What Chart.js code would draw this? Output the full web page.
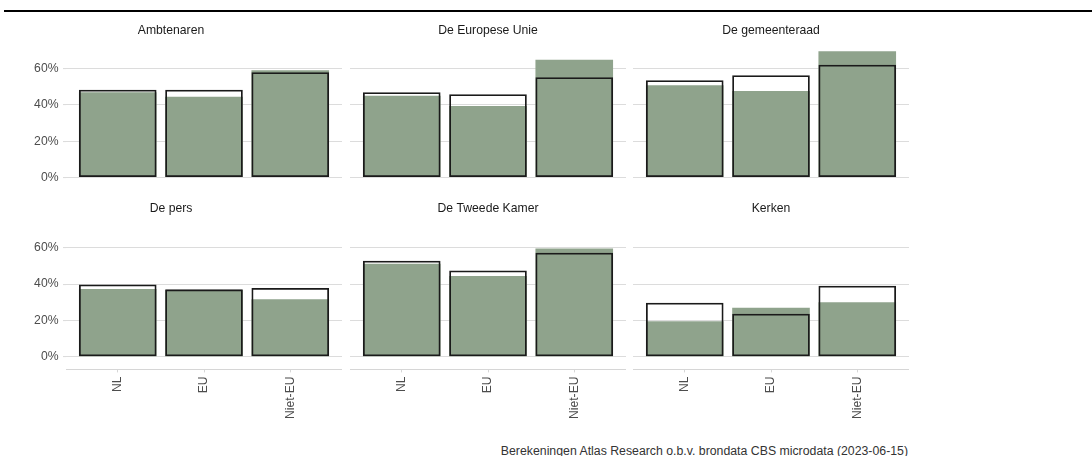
<!DOCTYPE html>
<html>
<head>
<meta charset="utf-8">
<script src="https://cdn.jsdelivr.net/npm/chart.js@4.4.0/dist/chart.umd.min.js"></script>
<style>
    body { margin: 0; background: #fff; width: 1092px; height: 456px; overflow: hidden; position: relative; font-family: "Liberation Sans", Arial, sans-serif; }
    #topline { position: absolute; left: 4px; top: 10px; width: 1088px; height: 2px; background: #000; }
    canvas { position: absolute; }
    #caption { position: absolute; right: 184px; top: 444px; font-size: 12.3px; line-height: 14px; color: #333; white-space: nowrap; }
</style>
</head>
<body>
<div id="topline"></div>
<div id="caption">Berekeningen Atlas Research o.b.v. brondata CBS microdata (2023-06-15)</div>
<script>
//categories on the x axis of every panel
var categories = ['NL', 'EU', 'Niet-EU'];

//panel titles, left to right and top to bottom
var panelTitles = ['Ambtenaren', 'De Europese Unie', 'De gemeenteraad', 'De pers', 'De Tweede Kamer', 'Kerken'];

//green filled bars, percent per category
var filledValues = [
    [47.0, 44.5, 59.0],
    [45.0, 39.4, 64.8],
    [50.8, 47.6, 69.4],
    [37.3, 36.8, 31.6],
    [51.2, 44.4, 59.6],
    [19.5, 27.0, 30.0]
];

//black outlined bars, percent per category
var outlineValues = [
    [48.3, 48.3, 57.9],
    [46.9, 45.8, 55.2],
    [53.5, 56.3, 62.1],
    [39.8, 37.1, 37.8],
    [52.8, 47.5, 57.2],
    [29.7, 23.7, 39.1]
];

//y axis tick labels
var yTicks = [0, 20, 40, 60];

Chart.defaults.font.family = "'Liberation Sans', Arial, sans-serif";
Chart.defaults.font.size = 12.2;

//turn a list of values into points at x = 1, 2, 3
function toPoints(values) {
    return values.map(function(v, j) {
        return { x: j + 1, y: v };
    });
}

//draws one facet panel
function drawPanel(i) {
    var col = i % 3;
    var row = Math.floor(i / 3);
    var isLeft = col === 0;
    var isBottom = row === 1;

    var yAxisWidth = isLeft ? 66 : 0;
    var canvas = document.createElement('canvas');
    canvas.width = yAxisWidth + 276;
    canvas.height = isBottom ? 230 : 187;
    canvas.style.left = [0, 350, 633][col] + 'px';
    canvas.style.top = (isBottom ? 201 : 23) + 'px';
    document.body.appendChild(canvas);

    new Chart(canvas.getContext('2d'), {
        type: 'bar',
        data: {
            datasets: [{
                data: toPoints(outlineValues[i]),
                backgroundColor: 'rgba(0,0,0,0)',
                borderColor: '#1a1a1a',
                borderWidth: 1.8,
                borderSkipped: false,
                grouped: false,
                barPercentage: 0.9,
                categoryPercentage: 1
            }, {
                data: toPoints(filledValues[i]),
                backgroundColor: '#8fa38c',
                borderWidth: 0,
                grouped: false,
                barPercentage: 0.9,
                categoryPercentage: 1
            }]
        },
        options: {
            responsive: false,
            animation: false,
            devicePixelRatio: 1,
            layout: { padding: { left: 0, right: 0, top: 0, bottom: isBottom ? 11.6 : 19.8 } },
            plugins: {
                legend: { display: false },
                tooltip: { enabled: false },
                title: {
                    display: true,
                    text: panelTitles[i],
                    color: '#1a1a1a',
                    font: { size: 12.2, weight: 'normal' },
                    padding: { top: 0, bottom: isBottom ? 8.56 : 7.36 }
                }
            },
            scales: {
                x: {
                    type: 'linear',
                    display: isBottom,
                    min: 0.4,
                    max: 3.6,
                    offset: false,
                    afterBuildTicks: function(scale) {
                        scale.ticks = [1, 2, 3].map(function(v) { return { value: v }; });
                    },
                    afterFit: function(scale) { scale.height = isBottom ? 50 : 0; },
                    grid: { display: true, offset: false, drawOnChartArea: false, drawTicks: true, tickLength: 3, color: '#d6d6d6' },
                    border: { display: true, color: '#d6d6d6', width: 1 },
                    ticks: {
                        autoSkip: false,
                        minRotation: 90,
                        maxRotation: 90,
                        padding: 4,
                        color: '#4d4d4d',
                        callback: function(v) { return categories[v - 1]; }
                    }
                },
                y: {
                    min: -6.9,
                    max: 72.9,
                    afterBuildTicks: function(scale) {
                        scale.ticks = yTicks.map(function(v) { return { value: v }; });
                    },
                    afterFit: function(scale) { scale.width = yAxisWidth; },
                    grid: { color: '#dcdcdc', lineWidth: 1.1, drawTicks: isLeft, tickLength: 3 },
                    border: { display: false },
                    ticks: {
                        display: isLeft,
                        padding: 4.5,
                        color: '#4d4d4d',
                        callback: function(v) { return v + '%'; }
                    }
                }
            }
        }
    });
}

for (var i = 0; i < panelTitles.length; i++) {
    drawPanel(i);
}
</script>
</body>
</html>
